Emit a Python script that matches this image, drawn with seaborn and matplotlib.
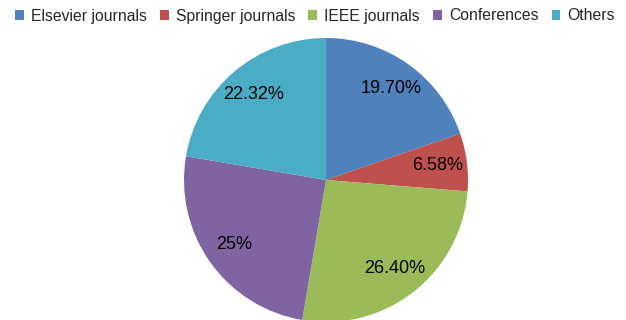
import matplotlib
matplotlib.use("Agg")
import matplotlib.pyplot as plt
import matplotlib.patches as mpatches
import seaborn as sns

categories = ["Elsevier journals", "Springer journals", "IEEE journals", "Conferences", "Others"]
shares = [19.70, 6.58, 26.40, 25.0, 22.32]
pct_labels = ["19.70%", "6.58%", "26.40%", "25%", "22.32%"]

sns.set_theme(style="white")
plt.rcParams["font.family"] = ["Liberation Sans", "DejaVu Sans"]

colors = sns.color_palette(["#4F81BD", "#C0504D", "#9BBB59", "#8064A2", "#4BACC6"])

fig = plt.figure(figsize=(6.26, 3.2), dpi=100)
fig.patch.set_facecolor("white")

# pie centre at (326, 180) px, radius 142 px
r_px = 142
ax = fig.add_axes([(326 - r_px) / 626, (320 - 180 - r_px) / 320, 2 * r_px / 626, 2 * r_px / 320])
wedges, texts = ax.pie(shares, colors=colors, startangle=90, counterclock=False,
                       labels=pct_labels, labeldistance=0.79,
                       wedgeprops=dict(linewidth=0),
                       textprops=dict(fontsize=13, color="black", ha="center", va="center"))
for t in texts:
    t.set_ha("center")
    t.set_va("center")
ax.set_xlim(-1, 1)
ax.set_ylim(-1, 1)
ax.set_aspect("equal")
ax.axis("off")

handles = [mpatches.Patch(facecolor=c, edgecolor="none") for c in colors]
fig.legend(handles, categories, loc="center", bbox_to_anchor=(0.503, 1 - 16 / 320), ncol=5,
           frameon=False, fontsize=11.3, handlelength=0.55, handleheight=0.55,
           handletextpad=0.45, columnspacing=0.85, borderaxespad=0)

fig.savefig("out.png", dpi=100)
